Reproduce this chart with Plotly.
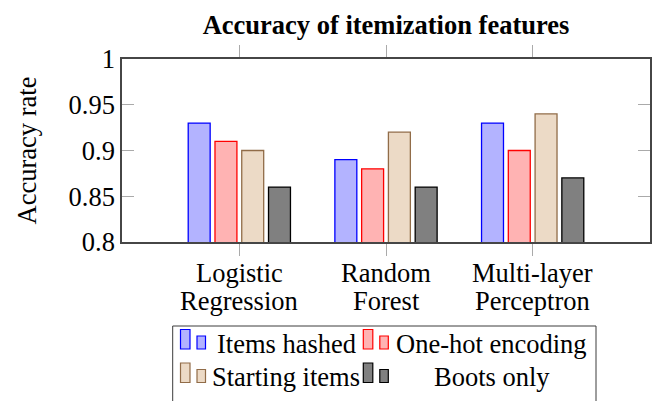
import plotly.graph_objects as go

categories = ["Logistic Regression", "Random Forest", "Multi-layer Perceptron"]
category_line1 = ["Logistic", "Random", "Multi-layer"]
category_line2 = ["Regression", "Forest", "Perceptron"]
series_names = ["Items hashed", "One-hot encoding", "Starting items", "Boots only"]
items_hashed = [0.93, 0.89, 0.93]
one_hot = [0.91, 0.88, 0.90]
starting_items = [0.90, 0.92, 0.94]
boots_only = [0.86, 0.86, 0.87]
y_ticks = [0.8, 0.85, 0.9, 0.95, 1.0]
y_tick_labels = ["0.8", "0.85", "0.9", "0.95", "1"]

fills = ["rgb(179,179,255)", "rgb(255,179,179)", "rgb(236,218,198)", "rgb(128,128,128)"]
lines = ["rgb(0,0,255)", "rgb(255,0,0)", "rgb(145,108,72)", "rgb(0,0,0)"]
values = [items_hashed, one_hot, starting_items, boots_only]

FONT = "Liberation Serif, Times New Roman, serif"
FS = 26.5
W, H = 655, 401
L, R, T, B = 122, 5, 59, 159
PW, PH = W - L - R, H - T - B


def px(x):
    return (x - L) / PW


def py(y):
    return (H - B - y) / PH


fig = go.Figure()
for name, vals, fc, lc in zip(series_names, values, fills, lines):
    fig.add_trace(go.Bar(
        x=categories, y=vals, name=name, showlegend=False,
        marker=dict(color=fc, line=dict(color=lc, width=1.3)),
    ))

annotations = []
shapes = []
# category labels (two lines, tighter spacing than plotly's default)
for cat, l1, l2 in zip(categories, category_line1, category_line2):
    annotations.append(dict(x=cat, xref="x", y=py(273), yref="paper", text=l1,
                            showarrow=False, xanchor="center", yanchor="middle",
                            font=dict(family=FONT, size=FS, color="black")))
    annotations.append(dict(x=cat, xref="x", y=py(301), yref="paper", text=l2,
                            showarrow=False, xanchor="center", yanchor="middle",
                            font=dict(family=FONT, size=FS, color="black")))

# legend box
shapes.append(dict(type="rect", xref="paper", yref="paper",
                   x0=px(172.7), x1=px(596), y0=py(326), y1=py(410),
                   line=dict(color="rgb(60,60,60)", width=1), fillcolor="white", layer="above"))
# legend entries: (icon left x, text left x, row baseline y)
legend_pos = [(180.5, 215.7, 351.5), (363.3, 395.0, 351.5), (180.5, 211.0, 385.0), (363.3, 432.7, 385.0)]
for name, fc, lc, (ix, tx, base) in zip(series_names, fills, lines, legend_pos):
    shapes.append(dict(type="rect", xref="paper", yref="paper",
                       x0=px(ix), x1=px(ix + 9.5), y0=py(base - 2.5), y1=py(base - 22),
                       line=dict(color=lc, width=1.2), fillcolor=fc, layer="above"))
    shapes.append(dict(type="rect", xref="paper", yref="paper",
                       x0=px(ix + 16.5), x1=px(ix + 25), y0=py(base - 2.5), y1=py(base - 15.5),
                       line=dict(color=lc, width=1.2), fillcolor=fc, layer="above"))
    annotations.append(dict(x=px(tx), xref="paper", y=py(base - 8), yref="paper", text=name,
                            showarrow=False, xanchor="left", yanchor="middle", borderpad=0,
                            font=dict(family=FONT, size=FS, color="black")))

fig.update_layout(
    width=W, height=H,
    margin=dict(l=L, r=R, t=T, b=B, autoexpand=False),
    paper_bgcolor="white", plot_bgcolor="white",
    font=dict(family=FONT, size=FS, color="black"),
    title=dict(text="<b>Accuracy of itemization features</b>", x=0.5, xref="paper",
               xanchor="center", y=1 - 25 / H, yref="container", yanchor="middle",
               font=dict(family=FONT, size=FS, color="black")),
    barmode="group", bargap=0.27, bargroupgap=0.18,
    showlegend=False,
    annotations=annotations, shapes=shapes,
)
fig.update_xaxes(
    range=[-0.8, 2.8], showline=True, linecolor="rgb(70,70,70)", linewidth=1.5,
    mirror="ticks", ticks="outside", ticklen=12, tickcolor="rgb(170,170,170)", tickwidth=1.3,
    showgrid=False, showticklabels=False,
)
fig.update_yaxes(
    range=[0.8, 1.0], tickvals=y_ticks, ticktext=y_tick_labels,
    showline=True, linecolor="rgb(70,70,70)", linewidth=1.5,
    mirror="ticks", ticks="inside", ticklen=12, tickcolor="rgb(170,170,170)", tickwidth=1.3,
    showgrid=False, zeroline=False, tickfont=dict(family=FONT, size=FS),
    title=dict(text="Accuracy rate", font=dict(family=FONT, size=FS), standoff=24),
)

fig.write_html("out.html", config={"displayModeBar": False},
               post_script="document.body.style.margin='0px';")
